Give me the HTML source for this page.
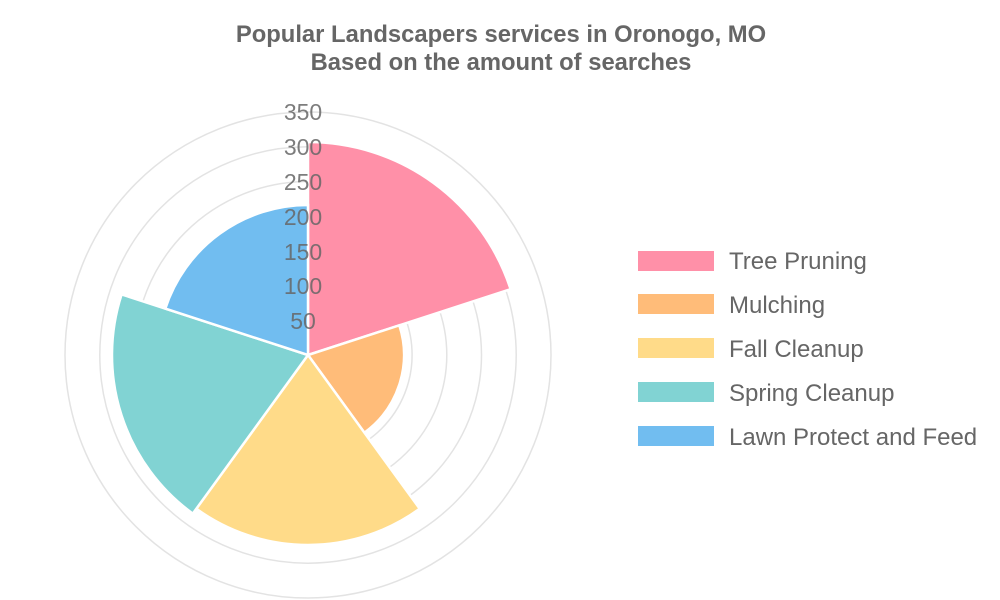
<!DOCTYPE html>
<html><head><meta charset="utf-8"><style>
html,body{margin:0;padding:0;background:#fff;width:1000px;height:600px;overflow:hidden}
</style></head><body>
<svg width="1000" height="600" xmlns="http://www.w3.org/2000/svg" font-family="Liberation Sans, sans-serif">
<text x="501" y="42" text-anchor="middle" font-size="23.8" font-weight="bold" fill="#666">Popular Landscapers services in Oronogo, MO</text>
<text x="501" y="70" text-anchor="middle" font-size="23.8" font-weight="bold" fill="#666">Based on the amount of searches</text>
<g fill="none" stroke="#e3e3e3" stroke-width="1.5">
<circle cx="308" cy="355" r="34.7"/><circle cx="308" cy="355" r="69.4"/><circle cx="308" cy="355" r="104.1"/>
<circle cx="308" cy="355" r="138.8"/><circle cx="308" cy="355" r="173.5"/><circle cx="308" cy="355" r="208.2"/>
<circle cx="308" cy="355" r="243"/>
</g>
<g stroke="#fff" stroke-width="2.5">
<path d="M308,355 L308,142 A213,213 0 0 1 510.6,289.2 Z" fill="#ff90a8"/>
<path d="M308,355 L399.3,325.3 A96,96 0 0 1 364.4,432.7 Z" fill="#ffbc79"/>
<path d="M308,355 L419.7,508.7 A190,190 0 0 1 196.3,508.7 Z" fill="#ffdb89"/>
<path d="M308,355 L192.8,513.6 A196,196 0 0 1 121.6,294.4 Z" fill="#81d3d3"/>
<path d="M308,355 L165.3,308.6 A150,150 0 0 1 308,205 Z" fill="#71bdf0"/>
</g>
<g font-size="23" fill="#666" text-anchor="middle" fill-opacity="0.85">
<text x="303" y="329">50</text><text x="303" y="294">100</text><text x="303" y="260">150</text>
<text x="303" y="225">200</text><text x="303" y="190">250</text><text x="303" y="155">300</text>
<text x="303" y="120">350</text>
</g>
<g font-size="24" fill="#666">
<rect x="638" y="251" width="76" height="20" fill="#ff90a8"/><text x="729" y="269">Tree Pruning</text>
<rect x="638" y="294" width="76" height="20" fill="#ffbc79"/><text x="729" y="313">Mulching</text>
<rect x="638" y="338" width="76" height="20" fill="#ffdb89"/><text x="729" y="357">Fall Cleanup</text>
<rect x="638" y="382" width="76" height="20" fill="#81d3d3"/><text x="729" y="401">Spring Cleanup</text>
<rect x="638" y="426" width="76" height="20" fill="#71bdf0"/><text x="729" y="445">Lawn Protect and Feed</text>
</g>
</svg>
</body></html>
